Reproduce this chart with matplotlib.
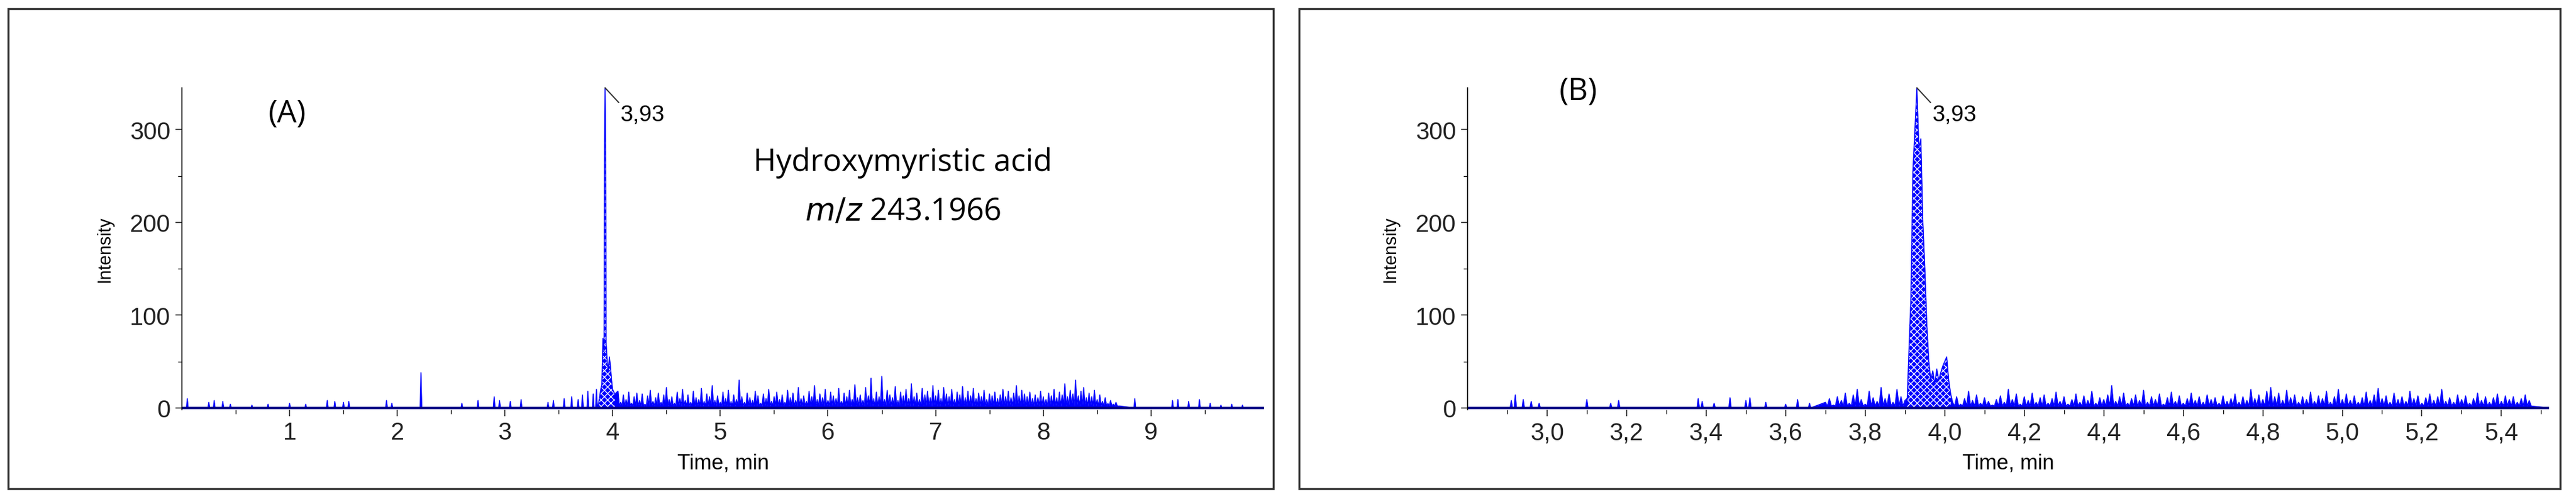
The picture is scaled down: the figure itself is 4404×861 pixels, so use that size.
import matplotlib.pyplot as plt
import numpy as np
from matplotlib.patches import Rectangle

plt.rcParams["font.family"] = ["Liberation Sans Narrow", "Liberation Sans", "DejaVu Sans"]
plt.rcParams["hatch.color"] = "white"

BLUE = "#0000ff"

# ---- panel A data (minutes, intensity) ----
a_sparse_t = [0.05, 0.25, 0.3, 0.38, 0.45, 0.65, 0.8, 1.0, 1.15, 1.35, 1.42, 1.5,
              1.55, 1.9, 1.95, 2.22, 2.6, 2.75, 2.9, 2.95, 3.05, 3.15, 3.4, 3.45,
              3.55, 3.62, 3.68, 3.72, 3.77, 3.82, 3.85,
              8.85, 9.2, 9.25, 9.35, 9.45, 9.55, 9.65, 9.75, 9.85]
a_sparse_v = [10, 6, 8, 7, 4, 3, 4, 5, 4, 8, 7, 6,
              7, 8, 5, 38, 5, 8, 12, 8, 7, 9, 6, 8,
              10, 12, 9, 14, 18, 15, 20,
              10, 8, 9, 7, 9, 5, 3, 4, 3]
a_peak_t = [3.87, 3.89, 3.90, 3.91, 3.92, 3.925, 3.93, 3.935, 3.94, 3.95, 3.96, 3.97, 3.98, 3.99, 4.00, 4.02]
a_peak_v = [5, 20, 25, 75, 60, 290, 345, 290, 70, 50, 40, 55, 45, 30, 20, 15]
a_dense_start, a_dense_step = 4.05, 0.025
a_dense_v = [
    18, 6, 14, 9, 17, 5, 12, 16, 8, 15, 4, 13, 19, 7, 11, 16, 6, 14, 22, 9,
    12, 5, 17, 10, 20, 8, 14, 6, 18, 11, 9, 21, 7, 15, 12, 24, 8, 13, 6, 17,
    10, 19, 7, 14, 9, 30, 12, 6, 16, 11, 8, 18, 13, 5, 15, 10, 20, 7, 12, 17,
    9, 14, 6, 19, 11, 16, 8, 22, 10, 13, 7, 18, 12, 24, 9, 15, 11, 20, 8, 17,
    13, 10, 21, 7, 16, 12, 19, 9, 25, 11, 14, 8, 22, 13, 32, 10, 17, 12, 34, 9,
    19, 14, 11, 23, 8, 17, 13, 20, 10, 26, 12, 16, 9, 21, 14, 18, 11, 24, 13, 19,
    10, 22, 15, 12, 20, 9, 17, 14, 23, 11, 18, 13, 21, 10, 16, 12, 19, 9, 15, 13,
    17, 10, 14, 20, 12, 18, 11, 16, 24, 13, 19, 15, 12, 17, 10, 14, 11, 18, 12, 9,
    16, 13, 20, 11, 17, 14, 26, 12, 19, 15, 30, 13, 18, 22, 11, 16, 12, 19, 9, 14,
    7, 11, 5, 8, 4, 6, 2,
]

# ---- panel B data ----
b_sparse_t = [2.91, 2.92, 2.94, 2.96, 2.98, 3.1, 3.16, 3.18, 3.38, 3.39, 3.42, 3.46,
              3.5, 3.51, 3.55, 3.6, 3.63, 3.66]
b_sparse_v = [8, 14, 9, 7, 5, 9, 5, 8, 10, 7, 5, 11, 8, 11, 6, 4, 9, 5]
b_pre_start, b_step = 3.70, 0.01
b_pre_v = [6, 10, 3, 12, 8, 16, 5, 14, 20, 9, 4, 18, 11, 7, 22, 10, 15, 6, 20, 12, 8]
b_peak_t = [3.905, 3.915, 3.92, 3.925, 3.93, 3.935, 3.94, 3.945, 3.95, 3.955, 3.96,
            3.965, 3.97, 3.975, 3.98, 3.985, 3.99, 3.995, 4.0, 4.005, 4.01, 4.015]
b_peak_v = [10, 120, 255, 300, 345, 280, 290, 200, 150, 90, 50, 30, 40, 25, 42, 30, 38, 45, 50, 55, 30, 15]
b_post_start = 4.02
b_post_v = [
    6, 12, 4, 10, 18, 8, 14, 5, 11, 7, 3, 9, 13, 6, 20, 9, 15, 4, 12, 8,
    16, 6, 11, 14, 5, 10, 17, 7, 12, 4, 9, 15, 6, 13, 8, 18, 5, 11, 9, 14,
    24, 7, 12, 16, 5, 10, 14, 8, 19, 6, 12, 9, 15, 4, 11, 17, 7, 13, 5, 10,
    16, 8, 12, 6, 14, 9, 11, 5, 13, 7, 10, 15, 6, 12, 8, 20, 10, 14, 9, 18,
    22, 12, 16, 8, 19, 11, 14, 6, 12, 9, 17, 7, 13, 10, 18, 6, 12, 20, 9, 15,
    8, 13, 6, 11, 17, 8, 14, 21, 10, 13, 6, 16, 9, 12, 7, 18, 10, 13, 5, 11,
    15, 8, 12, 20, 7, 11, 6, 14, 9, 13, 5, 10, 16, 8, 12, 6, 11, 15, 7, 13,
    9, 12, 6, 10, 14, 8,
]


def series(start, step, vals):
    # spiky trace: each reading followed by a dip back near the baseline
    xs, ys = [], []
    for i, v in enumerate(vals):
        t = start + i * step
        xs += [t, t + step * 0.5]
        ys += [v, min(v, 2)]
    return xs, ys


def spikes(ts, vs, half):
    xs, ys = [], []
    for t, v in zip(ts, vs):
        xs += [t - half, t, t + half]
        ys += [0, v, 0]
    return xs, ys


def build_trace(parts, x0, x1):
    xs = [x0]
    ys = [0]
    for px, py in parts:
        xs += px
        ys += py
    xs.append(x1)
    ys.append(0)
    order = np.argsort(xs, kind="stable")
    return np.array(xs)[order], np.array(ys)[order]


def draw_panel(ax, xs, ys, peak_t, peak_v, xlim, major, minor, fmt):
    ax.fill_between(xs, 0, ys, color=BLUE, lw=0)
    ax.plot(xs, ys, color=BLUE, lw=1.2)
    # integrated peak area, dotted hatch
    ax.fill_between(peak_t, 0, peak_v, facecolor="none", edgecolor="white",
                    hatch="xxx", lw=0)
    ax.plot([peak_t[0], peak_t[-1]], [0.5, 0.5], color="red", lw=2)
    ax.axhline(0, color="#00008b", lw=3)
    ax.set_xlim(*xlim)
    ax.set_ylim(-2, 345)
    ax.set_xticks(major)
    ax.set_xticklabels([fmt(v) for v in major])
    ax.set_xticks(minor, minor=True)
    ax.set_yticks([0, 100, 200, 300])
    ax.set_yticks([50, 150, 250], minor=True)
    for s in ["top", "right"]:
        ax.spines[s].set_visible(False)
    ax.spines["left"].set_linewidth(1.2)
    ax.spines["bottom"].set_visible(False)
    ax.tick_params(axis="both", which="major", labelsize=30, length=8, width=1.2,
                   colors="#222222", pad=6)
    ax.tick_params(axis="both", which="minor", length=5, width=1)
    ax.set_xlabel("Time, min", fontsize=26, labelpad=10)
    ax.set_ylabel("Intensity", fontsize=22, labelpad=20, family=["Liberation Sans", "DejaVu Sans"])
    top_t = peak_t[int(np.argmax(peak_v))]
    ax.annotate("3,93", xy=(top_t, 345), xytext=(26, -28), textcoords="offset pixels",
                fontsize=28, va="top", ha="left",
                arrowprops=dict(arrowstyle="-", color="#333333", lw=1.5,
                                shrinkA=0, shrinkB=0, relpos=(0, 1)))


fig = plt.figure(figsize=(44.04, 8.62), dpi=100)
W, H = 4404, 862

for x0, x1 in [(14, 2177), (2221, 4377)]:
    fig.patches.append(Rectangle((x0 / W, 1 - 836 / H), (x1 - x0) / W, (836 - 16) / H,
                                 transform=fig.transFigure, fill=False,
                                 edgecolor="#333333", lw=2.5))

# panel A
axA = fig.add_axes([311 / W, 1 - 701 / H, (2161 - 311) / W, (701 - 151) / H])
parts = [spikes(a_sparse_t, a_sparse_v, 0.008),
         (a_peak_t, a_peak_v),
         series(a_dense_start, a_dense_step, a_dense_v)]
xs, ys = build_trace(parts, 0.0, 10.05)
draw_panel(axA, xs, ys, a_peak_t, a_peak_v, (0.0, 10.05),
           list(range(1, 10)), [i * 0.5 for i in range(1, 20)], lambda v: f"{v}")
fig.text(491 / W, 1 - 195 / H, "(A)", fontsize=38, ha="center", va="center",
         family=["Open Sans", "DejaVu Sans"])
fig.text(1543 / W, 1 - 278 / H, "Hydroxymyristic acid", fontsize=38,
         ha="center", va="center", family=["Open Sans", "DejaVu Sans"])
fig.text(1543 / W, 1 - 362 / H, "$m/z$ 243.1966", fontsize=38,
         ha="center", va="center", family=["Open Sans", "DejaVu Sans"])

# panel B
axB = fig.add_axes([2509 / W, 1 - 701 / H, (4358 - 2509) / W, (701 - 151) / H])
parts = [spikes(b_sparse_t, b_sparse_v, 0.003),
         series(b_pre_start, b_step, b_pre_v),
         (b_peak_t, b_peak_v),
         series(b_post_start, b_step, b_post_v)]
xs, ys = build_trace(parts, 2.8, 5.52)
majB = [round(3.0 + 0.2 * i, 1) for i in range(13)]
minB = [round(2.9 + 0.1 * i, 1) for i in range(27)]
draw_panel(axB, xs, ys, b_peak_t, b_peak_v, (2.8, 5.52), majB, minB,
           lambda v: f"{v:.1f}".replace(".", ","))
fig.text(2699 / W, 1 - 157 / H, "(B)", fontsize=38, ha="center", va="center",
         family=["Open Sans", "DejaVu Sans"])

fig.savefig("out.png", dpi=100)
